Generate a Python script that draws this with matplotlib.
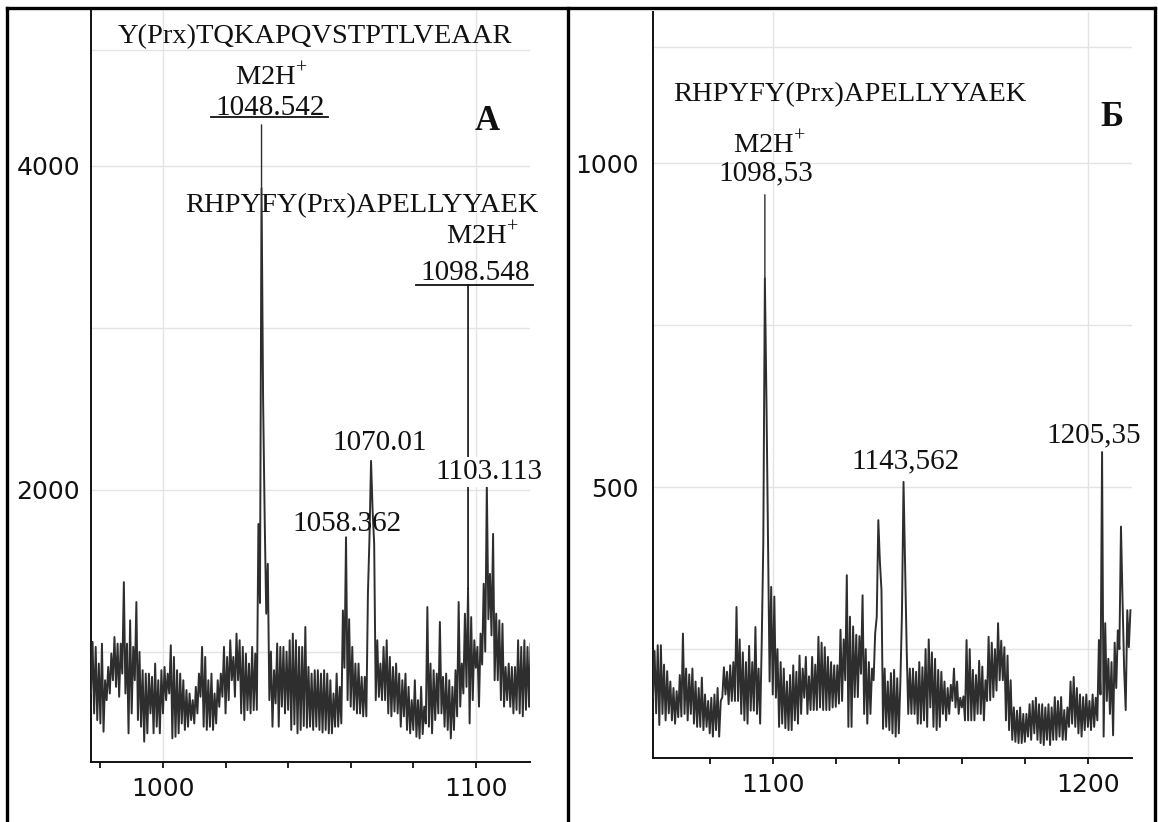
import numpy as np
import matplotlib.pyplot as plt
from matplotlib.lines import Line2D

plt.rcParams['mathtext.fontset'] = 'custom'
plt.rcParams['mathtext.rm'] = 'Liberation Serif'

# panel A (left): one value at every m/z unit and one at the half step
mzA_start, mzA_end = 977, 1117
a_lo = [741, 618, 577, 556, 505, 700, 741, 823, 782, 721,
        864, 741, 495, 618, 823, 577, 536, 444, 495, 618,
        495, 536, 495, 618, 700, 741, 464, 474, 495, 556,
        516, 536, 577, 556, 618, 721, 536, 516, 536, 516,
        556, 659, 721, 618, 700, 823, 721, 823,
        618, 577, 638, 618, 638, 640, 1300, 2560, 1234, 700,
        536, 680, 536, 660, 618, 640, 516, 550, 495, 516,
        540, 530, 536, 516, 536, 516, 500, 516, 495, 495,
        536, 536, 556, 900, 700, 660, 640, 618, 618, 600,
        600, 1706, 1870, 700, 720, 700,
        700, 618, 600, 630, 618, 536, 600, 516, 495, 516,
        474, 464, 490, 556, 536, 495, 577, 618, 618, 536,
        516, 464, 516, 600, 660, 741, 782, 556, 700, 900,
        660, 920, 1000, 1200, 1100, 823, 823, 700, 660, 700,
        659, 618, 640, 618, 600, 640, 659]
a_hi = [1060, 1029, 926, 1049, 823, 905, 988, 1090, 1049, 1049,
        1429, 1049, 1193, 1029, 1306, 998, 885, 864, 864, 844,
        926, 823, 885, 905, 864, 1039, 967, 885, 864, 823,
        762, 741, 700, 782, 864, 1029, 967, 823, 864, 741,
        823, 864, 1029, 967, 1070, 967, 1111, 1070,
        1029, 988, 926, 1029, 988, 1788, 3861, 1829, 1542, 1000,
        885, 1050, 1029, 1029, 1000, 1070, 1111, 1070, 1029, 1029,
        1152, 905, 864, 885, 885, 864, 885, 864, 823, 741,
        864, 782, 1254, 1706, 1200, 1029, 926, 926, 844, 844,
        1357, 2178, 1665, 1070, 926, 1029,
        1070, 967, 905, 926, 864, 823, 864, 782, 700, 823,
        700, 782, 660, 1275, 926, 885, 864, 1183, 844, 864,
        823, 782, 885, 1306, 926, 1234, 1388, 1213, 1070, 1029,
        1111, 1419, 2035, 1480, 1727, 1234, 1193, 1172, 905, 926,
        905, 905, 1070, 1029, 1070, 1029, 1049]

# panel B (right)
mzB_start, mzB_end = 1062, 1213
b_lo = [176, 151, 133, 150, 140, 151, 140, 135, 145, 146,
        150, 140, 150, 135, 130, 130, 125, 130, 120, 115,
        125, 115, 176, 180, 165, 170, 170, 170, 150, 140,
        135, 155, 155, 150, 135, 413, 634, 200, 180, 175,
        130, 135, 128, 125, 125, 140, 135, 150, 175, 150,
        156, 156, 156, 160, 156, 156, 156, 160, 161, 166,
        170, 202, 130, 130, 176, 176, 212, 150, 135, 150,
        202, 300, 385, 127, 130, 125, 120, 115, 120, 305,
        377, 150, 150, 150, 135, 135, 140, 130, 160, 130,
        125, 130, 150, 140, 150, 170, 160, 150, 160, 140,
        140, 140, 140, 150, 150, 140, 170, 171, 176, 186,
        202, 202, 140, 125, 110, 107, 105, 105, 107, 115,
        110, 120, 110, 105, 102, 110, 102, 110, 110, 115,
        110, 110, 130, 135, 130, 120, 115, 125, 130, 125,
        130, 140, 180, 115, 170, 150, 117, 190, 250, 325,
        156, 253]
b_hi = [247, 256, 256, 226, 216, 200, 190, 185, 210, 274,
        220, 211, 220, 200, 190, 206, 180, 170, 175, 180,
        190, 170, 222, 215, 225, 230, 315, 265, 245, 230,
        255, 230, 284, 220, 260, 822, 415, 346, 331, 250,
        230, 220, 200, 210, 225, 215, 240, 220, 238, 208,
        238, 226, 269, 260, 253, 238, 230, 225, 225, 280,
        265, 364, 300, 285, 272, 270, 333, 250, 230, 220,
        274, 449, 341, 220, 200, 213, 218, 205, 200, 508,
        250, 220, 220, 215, 230, 222, 250, 265, 245, 235,
        218, 215, 200, 190, 195, 220, 200, 175, 177, 264,
        250, 218, 210, 232, 223, 202, 269, 260, 250, 290,
        263, 253, 240, 202, 160, 155, 160, 150, 150, 165,
        170, 175, 165, 165, 160, 165, 160, 176, 170, 176,
        156, 160, 200, 207, 190, 180, 176, 180, 170, 180,
        175, 264, 554, 290, 235, 230, 260, 279, 439, 220,
        310, 310]


def zigzag(start, end, lo, hi):
    mz = np.arange(start, end + 1)
    x = np.column_stack([mz, mz + 0.5]).ravel()
    y = np.column_stack([lo, hi]).ravel()
    return x, y


xa, ya = zigzag(mzA_start, mzA_end, a_lo, a_hi)
xb, yb = zigzag(mzB_start, mzB_end, b_lo, b_hi)

W, H = 1158, 822
fig = plt.figure(figsize=(W / 100, H / 100), dpi=100)
axA = fig.add_axes([91 / W, 1 - 762 / H, 439 / W, 754 / H])
axB = fig.add_axes([653 / W, 1 - 758 / H, 479 / W, 746 / H])

serif = 'Liberation Serif'
linecol = '#2e2e2e'
gridcol = '#e4e4e4'
pep_size = 20.5
num_size = 21


def style(ax, x, y, xlim, ylim, xminor, ylab, ygrid, ypad):
    ax.plot(x, y, color=linecol, lw=1.4, zorder=3)
    ax.set_xlim(*xlim)
    ax.set_ylim(*ylim)
    for s in ['top', 'right']:
        ax.spines[s].set_visible(False)
    for s in ['left', 'bottom']:
        ax.spines[s].set_linewidth(1.4)
        ax.spines[s].set_color('#111111')
    ax.set_xticks([v for v in xminor if v % 100 == 0])
    ax.set_xticks([v for v in xminor if v % 100 != 0], minor=True)
    ax.set_yticks(ylab)
    ax.set_yticks(ygrid, minor=True)
    ax.tick_params(axis='x', which='both', direction='out', length=4.5,
                   width=1.3, color='#111111', pad=6,
                   labelsize=18, labelcolor='#111111')
    ax.tick_params(axis='y', which='both', length=0, pad=ypad,
                   labelsize=18, labelcolor='#111111')
    ax.grid(True, which='major', color=gridcol, lw=1.0, zorder=0)
    ax.grid(True, which='minor', axis='y', color=gridcol, lw=1.0, zorder=0)
    ax.set_axisbelow(True)


style(axA, xa, ya, (977, 1117.3), (318, 4975), range(980, 1120, 20),
      [2000, 4000], [1000, 3000, 4715], 8)
style(axB, xb, yb, (1062, 1214), (82, 1233), range(1080, 1220, 20),
      [500, 1000], [250, 750, 1179], 10)


def txt(ax, x, y, s, size=num_size, **kw):
    ax.text(x, y, s, transform=ax.transAxes, ha='center', va='center',
            fontsize=size, family=serif, color='#111111', clip_on=False, **kw)


# panel A labels
txt(axA, 0.510, 0.962, 'Y(Prx)TQKAPQVSTPTLVEAAR', size=pep_size)
txt(axA, 0.410, 0.909, r'M2H$^{+}$', size=pep_size)
txt(axA, 0.408, 0.867, '1048.542')
axA.plot([0.273, 0.540], [0.855, 0.855], transform=axA.transAxes,
         color='#111111', lw=1.3, clip_on=False)
txt(axA, 0.902, 0.849, 'A', size=25, weight='bold')
txt(axA, 0.617, 0.738, 'RHPYFY(Prx)APELLYYAEK', size=pep_size)
txt(axA, 0.891, 0.697, r'M2H$^{+}$', size=pep_size)
txt(axA, 0.875, 0.6485, '1098.548')
axA.plot([0.740, 1.007], [0.6326, 0.6326], transform=axA.transAxes,
         color='#111111', lw=1.3, clip_on=False)
txt(axA, 0.658, 0.423, '1070.01')
txt(axA, 0.583, 0.3156, '1058.362')

# leader lines from the labels down to the peaks
iA1 = int(np.argmax(ya))
axA.annotate('', xy=(xa[iA1], ya[iA1]), xytext=(xa[iA1], 0.845),
             textcoords=('data', 'axes fraction'),
             arrowprops=dict(arrowstyle='-', color=linecol, lw=1.0,
                             shrinkA=0, shrinkB=0))
iA2 = int(np.where(np.isclose(xa, 1097.5))[0][0])
axA.annotate('', xy=(xa[iA2], ya[iA2]), xytext=(xa[iA2], 0.6326),
             textcoords=('data', 'axes fraction'),
             arrowprops=dict(arrowstyle='-', color='#111111', lw=1.2,
                             shrinkA=0, shrinkB=0))
txt(axA, 0.907, 0.3846, '1103.113',
    bbox=dict(facecolor='white', edgecolor='none', pad=1.5), zorder=5)

# panel B labels
txt(axB, 0.411, 0.889, 'RHPYFY(Prx)APELLYYAEK', size=pep_size)
txt(axB, 0.958, 0.858, 'Б', size=25, weight='bold')
txt(axB, 0.242, 0.822, r'M2H$^{+}$', size=pep_size)
txt(axB, 0.236, 0.784, '1098,53')
txt(axB, 0.528, 0.397, '1143,562')
txt(axB, 0.921, 0.433, '1205,35')
iB1 = int(np.argmax(yb))
axB.annotate('', xy=(xb[iB1], yb[iB1]), xytext=(xb[iB1], 0.755),
             textcoords=('data', 'axes fraction'),
             arrowprops=dict(arrowstyle='-', color=linecol, lw=1.0,
                             shrinkA=0, shrinkB=0))

# outer frame and the divider between the panels
for xs, ys in [([7, 7], [822, 8]), ([7, 1155], [8, 8]),
               ([1155, 1155], [8, 822]), ([568, 568], [8, 822])]:
    fig.add_artist(Line2D([v / W for v in xs], [1 - v / H for v in ys],
                          transform=fig.transFigure, color='black', lw=2.4))

fig.savefig('out.png', dpi=100, facecolor='white')
